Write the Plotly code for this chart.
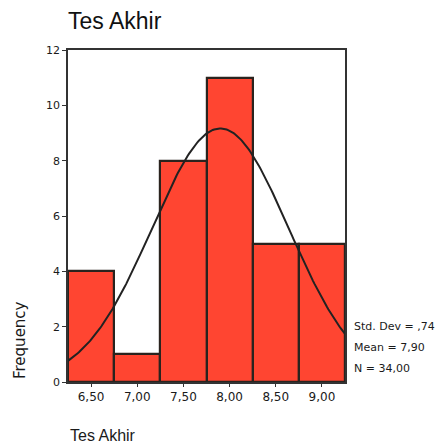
import numpy as np
import plotly.graph_objects as go

# Data
bin_centers = [6.5, 7.0, 7.5, 8.0, 8.5, 9.0]
frequencies = [4, 1, 8, 11, 5, 5]
bin_width = 0.5
x_tick_vals = [6.5, 7.0, 7.5, 8.0, 8.5, 9.0]
x_tick_text = ["6,50", "7,00", "7,50", "8,00", "8,50", "9,00"]
y_tick_vals = [0, 2, 4, 6, 8, 10, 12]
stat_mean = 7.90
stat_sd = 0.74
stat_n = 34
stats_text = ["Std. Dev = ,74", "Mean = 7,90", "N = 34,00"]

# Normal curve fitted with the displayed statistics (SPSS-style overlay)
lo = bin_centers[0] - bin_width / 2
hi = bin_centers[-1] + bin_width / 2
xc = np.linspace(lo, hi, 200)
yc = stat_n * bin_width / (stat_sd * np.sqrt(2 * np.pi)) * np.exp(-0.5 * ((xc - stat_mean) / stat_sd) ** 2)

fig = go.Figure()
fig.add_trace(go.Bar(
    x=bin_centers, y=frequencies, width=[bin_width] * len(bin_centers),
    marker=dict(color="#ff4531", line=dict(color="#2a231e", width=2.2)),
    hoverinfo="x+y",
))
fig.add_trace(go.Scatter(
    x=xc, y=yc, mode="lines",
    line=dict(color="#222222", width=2), hoverinfo="skip",
))

W, H = 436, 447
L, R, T, B = 68, 91, 50, 65
ph = H - T - B
pw = W - L - R

def py(px):
    return (H - B - px) / ph

fig.update_layout(
    width=W, height=H,
    margin=dict(l=L, r=R, t=T, b=B),
    paper_bgcolor="white", plot_bgcolor="white",
    showlegend=False,
    title=dict(text="Tes Akhir", x=L / W, xanchor="left", xref="container",
               y=1 - 21 / H, yanchor="middle", yref="container",
               font=dict(family="Liberation Sans, Arial", size=23, color="#111")),
    xaxis=dict(range=[lo, hi], tickvals=x_tick_vals, ticktext=x_tick_text,
               showgrid=False, zeroline=False, showline=True, mirror=True,
               linecolor="#333", linewidth=1.5, ticks="outside", ticklen=3,
               tickcolor="#333", tickfont=dict(family="DejaVu Sans", size=12, color="#1a1a1a")),
    yaxis=dict(range=[0, 12], tickvals=y_tick_vals,
               showgrid=False, zeroline=False, showline=True, mirror=True,
               linecolor="#333", linewidth=1.5, ticks="outside", ticklen=4,
               tickcolor="#333", tickfont=dict(family="DejaVu Sans", size=11, color="#1a1a1a")),
    bargap=0,
)

for i, (txt, ypx) in enumerate(zip(stats_text, [326, 347, 368])):
    fig.add_annotation(text=txt, xref="paper", yref="paper", x=(352 - L) / pw, y=py(ypx),
                       xanchor="left", yanchor="middle", showarrow=False,
                       font=dict(family="DejaVu Sans", size=11, color="#1a1a1a"))

fig.add_annotation(text="Frequency", xref="paper", yref="paper", x=(20 - L) / pw, y=py(340),
                   xanchor="center", yanchor="middle", textangle=-90, showarrow=False,
                   font=dict(family="DejaVu Sans", size=15, color="#1a1a1a"))

fig.add_annotation(text="Tes Akhir", xref="paper", yref="paper", x=0, y=py(435),
                   xanchor="left", yanchor="middle", showarrow=False,
                   font=dict(family="Liberation Sans, Arial", size=16, color="#1a1a1a"))

fig.write_html("out.html")
